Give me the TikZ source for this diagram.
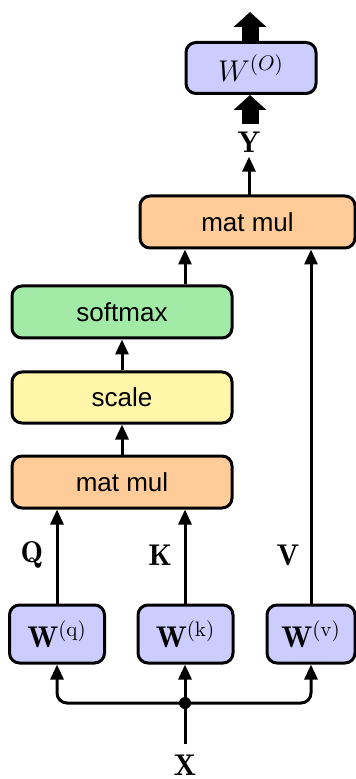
\RequirePackage{fix-cm}
\documentclass[tikz,border=0pt]{standalone}
\usepackage{fontspec}
\setsansfont{Liberation Sans}
\usetikzlibrary{arrows.meta}
\definecolor{wcol}{HTML}{CCCCFF}
\definecolor{mmcol}{HTML}{FFCC99}
\definecolor{smcol}{HTML}{A2EBA6}
\definecolor{sccol}{HTML}{FFF6AA}
\begin{document}
\begin{tikzpicture}[x=0.5pt,y=-0.5pt,
  box/.style={draw, line width=1.5pt, rounded corners=5pt, inner sep=0pt,
    minimum height=26pt, font=\sffamily\fontsize{13}{15}\selectfont},
  mfont/.style={font=\fontsize{15}{18}\selectfont},
  wbox/.style={box, fill=wcol, minimum height=29pt, mfont},
  lab/.style={inner sep=2pt, mfont},
  arr/.style={line width=1.5pt, -{Triangle[length=7.5pt 0 0,width=6.5pt 0 0]}},
  bigarr/.style={line width=8.5pt, -{Triangle[length=7.5pt 0 0,width=16pt 0 0]}}]
\useasboundingbox (0,0) rectangle (356,779);

% boxes
\node[box, fill=wcol, minimum width=65pt, minimum height=25.5pt, mfont] (wo) at (251,68) {$W^{(O)}$};
\node[box, fill=mmcol, minimum width=107.5pt] (mm2) at (247.5,222) {mat mul};
\node[box, fill=smcol, minimum width=110pt] (sm) at (122,312) {softmax};
\node[box, fill=sccol, minimum width=110pt, minimum height=25.5pt] (sc) at (122,397.5) {scale};
\node[box, fill=mmcol, minimum width=110pt] (mm1) at (122,482) {mat mul};
\node[wbox, minimum width=47.5pt] (wq) at (57,634) {$\mathbf{W}^{(\mathrm{q})}$};
\node[wbox, minimum width=47.5pt] (wk) at (185.5,634) {$\mathbf{W}^{(\mathrm{k})}$};
\node[wbox, minimum width=44pt] (wv) at (311,634) {$\mathbf{W}^{(\mathrm{v})}$};

% labels
\node[lab] (y) at (249,142) {$\mathbf{Y}$};
\node[lab] (q) at (32,555) {$\mathbf{Q}$};
\node[lab] (k) at (160,555) {$\mathbf{K}$};
\node[lab] (v) at (288,555) {$\mathbf{V}$};
\node[lab] (x) at (185,765) {$\mathbf{X}$};
\coordinate (dot) at (185,703);
\coordinate (top) at (250,12);
\coordinate (ybot) at (250,124);
\coordinate (mmtop) at (249,196);

% connectors
\draw[line width=1.5pt, shorten <=3pt] (x.north) -- (dot);
\fill (dot) circle[radius=3pt];
\draw[arr, rounded corners=5pt] (dot) -| (wq.south);
\draw[arr] (dot) -- (dot |- wk.south);
\draw[arr, rounded corners=5pt] (dot) -| (wv.south);
\draw[arr] (wq.north) -- (wq.north |- mm1.south);
\draw[arr] (dot |- wk.north) -- (dot |- mm1.south);
\draw[arr] (wv.north) -- (wv.north |- mm2.south);
\draw[arr] (mm1.north) -- (sc.south);
\draw[arr] (sc.north) -- (sm.south);
\draw[arr] (dot |- sm.north) -- (dot |- mm2.south);
\draw[arr] (mmtop) -- (mmtop |- y.south);
\draw[bigarr] (ybot) -- (wo.south -| ybot);
\draw[bigarr] (wo.north -| top) -- (top);
\end{tikzpicture}
\end{document}
